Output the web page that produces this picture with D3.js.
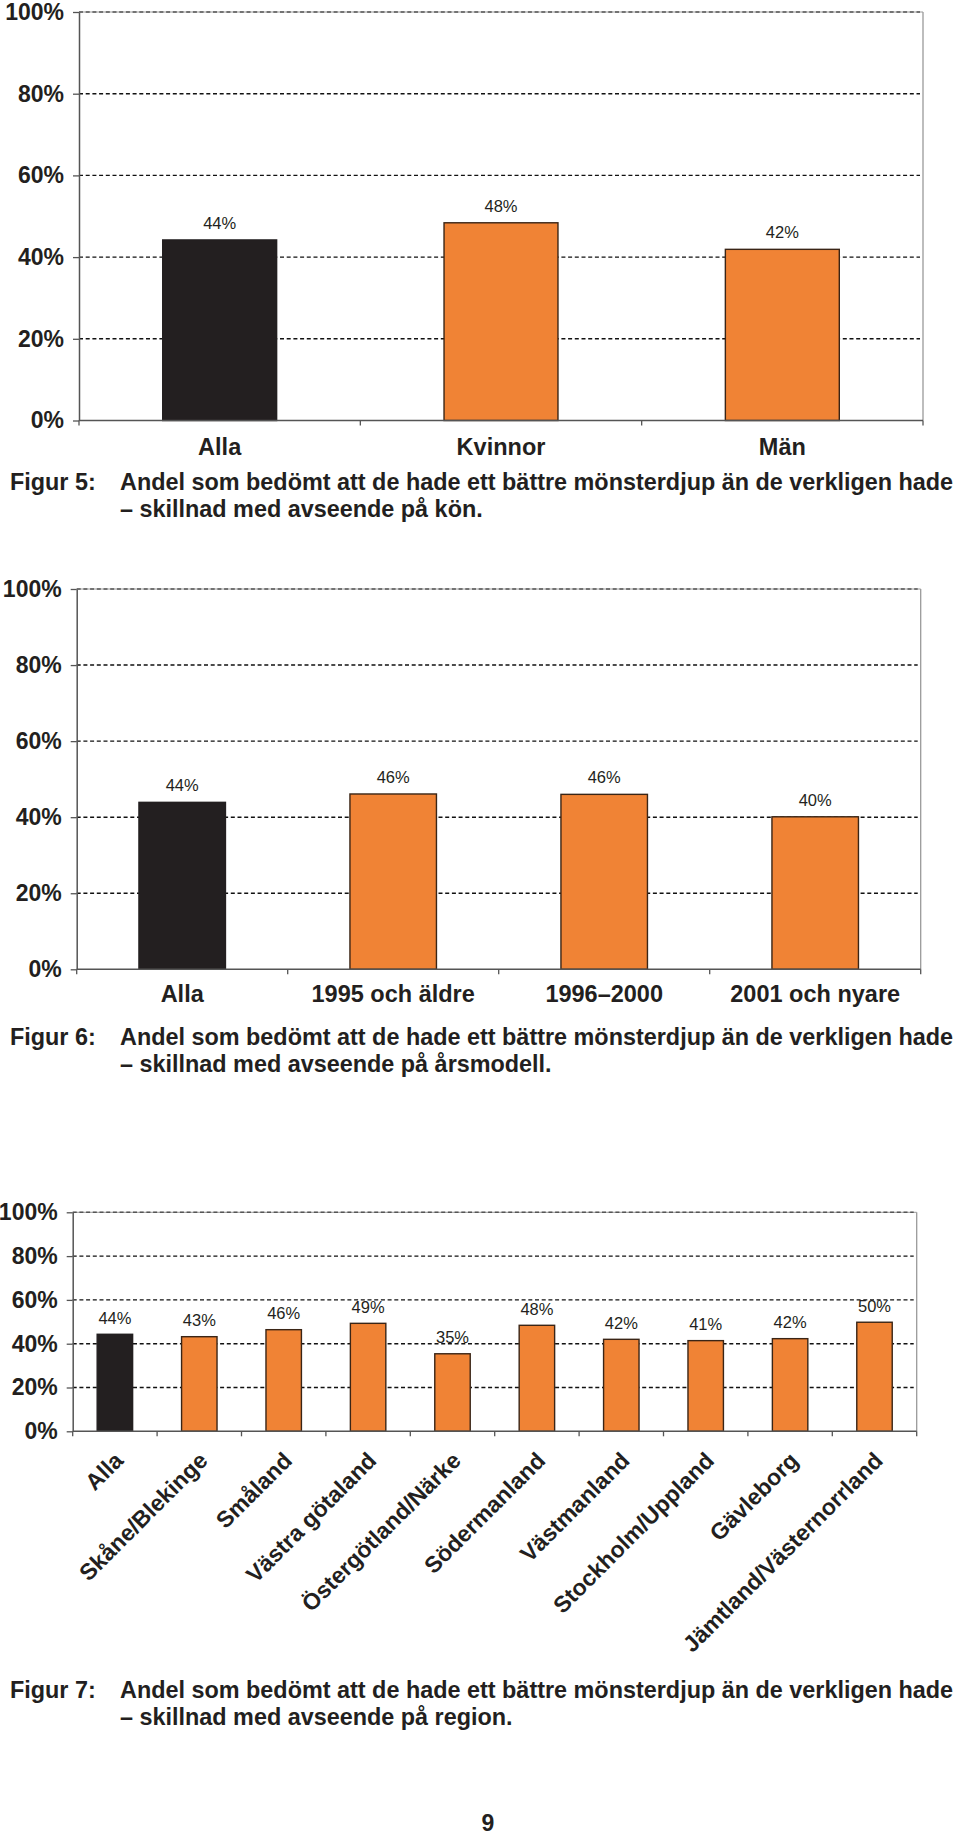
<!DOCTYPE html>
<html>
<head>
<meta charset="utf-8">
<script src="https://cdn.jsdelivr.net/npm/d3@7"></script>
<style>
  html, body { margin: 0; padding: 0; background: #fff; }
  svg { display: block; }
  text { font-family: "Liberation Sans", Arial, Helvetica, sans-serif; fill: #231f20; }
</style>
</head>
<body>
<div id="chart"></div>
<script>
// ---------- data ----------
const yTickValues = [0, 0.2, 0.4, 0.6, 0.8, 1.0];

const fig5Categories = ["Alla", "Kvinnor", "Män"];
const fig5Values = [0.442, 0.484, 0.419];
const fig5Caption = ["Figur 5:", "Andel som bedömt att de hade ett bättre mönsterdjup än de verkligen hade", "– skillnad med avseende på kön."];

const fig6Categories = ["Alla", "1995 och äldre", "1996–2000", "2001 och nyare"];
const fig6Values = [0.439, 0.461, 0.460, 0.401];
const fig6Caption = ["Figur 6:", "Andel som bedömt att de hade ett bättre mönsterdjup än de verkligen hade", "– skillnad med avseende på årsmodell."];

const fig7Categories = ["Alla", "Skåne/Blekinge", "Småland", "Västra götaland", "Östergötland/Närke",
  "Södermanland", "Västmanland", "Stockholm/Uppland", "Gävleborg", "Jämtland/Västernorrland"];
const fig7Values = [0.443, 0.432, 0.464, 0.493, 0.354, 0.484, 0.420, 0.414, 0.423, 0.498];
const fig7Caption = ["Figur 7:", "Andel som bedömt att de hade ett bättre mönsterdjup än de verkligen hade", "– skillnad med avseende på region."];

const pageNumber = "9";

// ---------- drawing ----------
const W = 960, H = 1835;
const ORANGE = "#f08335", BLACK = "#231f20", BAR_STROKE = "#3a2516";
const AXIS = "#555", BORDER = "#9a9a9a";
const pct = d3.format(".0%");

const svg = d3.select("#chart").append("svg").attr("width", W).attr("height", H);

function drawChart(o) {
  const g = svg.append("g");
  const y = d3.scaleLinear().domain([0, 1]).range([o.yBot, o.yTop]);
  const x = d3.scaleBand().domain(o.categories).range([o.x0, o.x1])
    .paddingInner(o.pad).paddingOuter(o.pad / 2);

  // top border (gray) and right border
  g.append("line").attr("x1", o.x0).attr("x2", o.x1).attr("y1", y(1)).attr("y2", y(1))
    .attr("stroke", BORDER).attr("stroke-width", 1);
  g.append("line").attr("x1", o.x1).attr("x2", o.x1).attr("y1", y(1)).attr("y2", y(0))
    .attr("stroke", BORDER).attr("stroke-width", 1.3);

  // dashed gridlines
  g.selectAll("line.grid").data(yTickValues.filter(d => d > 0)).join("line")
    .attr("class", "grid")
    .attr("x1", o.x0).attr("x2", o.x1 - 3)
    .attr("y1", d => y(d)).attr("y2", d => y(d))
    .attr("stroke", d => d === 1 ? "#555" : "#111")
    .attr("stroke-width", 1.4)
    .attr("stroke-dasharray", "4,2.7");

  // bars
  g.selectAll("rect.bar").data(o.values).join("rect")
    .attr("class", "bar")
    .attr("x", (d, i) => x(o.categories[i]))
    .attr("width", x.bandwidth())
    .attr("y", d => y(d))
    .attr("height", d => y(0) - y(d))
    .attr("fill", (d, i) => i === 0 ? BLACK : ORANGE)
    .attr("stroke", (d, i) => i === 0 ? BLACK : BAR_STROKE)
    .attr("stroke-width", 1.4);

  // value labels
  g.selectAll("text.val").data(o.values).join("text")
    .attr("class", "val")
    .attr("x", (d, i) => x(o.categories[i]) + x.bandwidth() / 2)
    .attr("y", d => y(d) - o.valGap)
    .attr("text-anchor", "middle")
    .attr("font-size", 16.5)
    .text(d => pct(d));

  // y axis
  const yAxis = d3.axisLeft(y).tickValues(yTickValues).tickFormat(pct)
    .tickSize(6).tickSizeOuter(0).tickPadding(9);
  const ya = g.append("g").attr("transform", `translate(${o.x0},0)`).call(yAxis);
  ya.select(".domain").attr("stroke", AXIS).attr("stroke-width", 1.5);
  ya.selectAll(".tick line").attr("stroke", AXIS).attr("stroke-width", 1.3);
  ya.selectAll(".tick text").attr("font-size", o.yFont).attr("font-weight", "bold")
    .attr("font-family", null).attr("fill", "#231f20");

  // x axis baseline and boundary ticks
  g.append("line").attr("x1", o.x0).attr("x2", o.x1).attr("y1", y(0)).attr("y2", y(0))
    .attr("stroke", AXIS).attr("stroke-width", 1.5);
  const bounds = d3.range(o.categories.length + 1).map(i => o.x0 + i * x.step());
  g.selectAll("line.xt").data(bounds).join("line").attr("class", "xt")
    .attr("x1", d => d).attr("x2", d => d).attr("y1", y(0)).attr("y2", y(0) + 5)
    .attr("stroke", AXIS).attr("stroke-width", 1.3);

  // category labels
  const cl = g.selectAll("text.cat").data(o.categories).join("text")
    .attr("class", "cat")
    .attr("font-size", o.catFont).attr("font-weight", "bold")
    .text(d => d);
  if (o.rotate) {
    cl.attr("text-anchor", "end").attr("dy", "0.35em")
      .attr("transform", d => `translate(${x(d) + x.bandwidth() / 2 + 4},${y(0) + 25}) rotate(-45)`);
  } else {
    cl.attr("text-anchor", "middle")
      .attr("x", d => x(d) + x.bandwidth() / 2).attr("y", o.catY);
  }

  // caption
  const cap = svg.append("g");
  cap.append("text").attr("x", 10).attr("y", o.capY).attr("font-size", o.capFont)
    .attr("font-weight", "bold").text(o.caption[0]);
  cap.append("text").attr("x", 120).attr("y", o.capY).attr("font-size", o.capFont)
    .attr("font-weight", "bold").text(o.caption[1]);
  cap.append("text").attr("x", 120).attr("y", o.capY + 27).attr("font-size", o.capFont)
    .attr("font-weight", "bold").text(o.caption[2]);
}

drawChart({ categories: fig5Categories, values: fig5Values, caption: fig5Caption,
  x0: 79, x1: 923, yTop: 12, yBot: 420.5, pad: 0.595, valGap: 11,
  yFont: 23, catFont: 23.5, catY: 455, capY: 490, capFont: 23.4 });

drawChart({ categories: fig6Categories, values: fig6Values, caption: fig6Caption,
  x0: 76.7, x1: 920.7, yTop: 589, yBot: 969.3, pad: 0.59, valGap: 11,
  yFont: 23, catFont: 23.5, catY: 1001.5, capY: 1045, capFont: 23.4 });

drawChart({ categories: fig7Categories, values: fig7Values, caption: fig7Caption,
  x0: 72.7, x1: 916.7, yTop: 1212.3, yBot: 1431.3, pad: 0.58, valGap: 10.5,
  yFont: 23, catFont: 23, rotate: true, capY: 1698.3, capFont: 23.4 });

svg.append("text").attr("x", 488).attr("y", 1831).attr("text-anchor", "middle")
  .attr("font-size", 23).attr("font-weight", "bold").text(pageNumber);
</script>
</body>
</html>
